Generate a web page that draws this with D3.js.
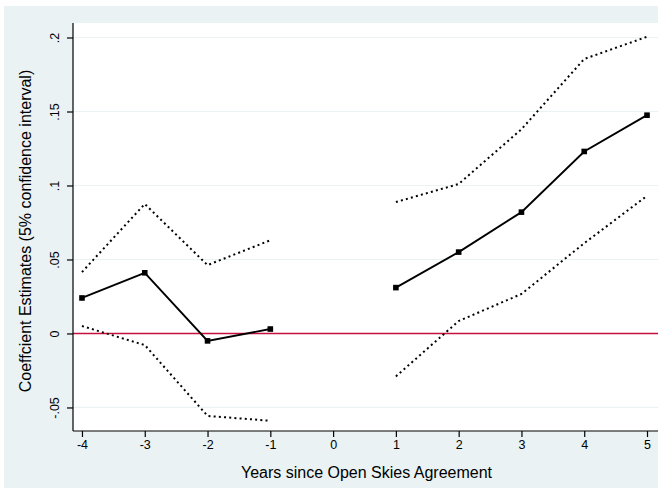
<!DOCTYPE html>
<html>
<head>
<meta charset="utf-8">
<script src="https://cdn.jsdelivr.net/npm/d3@7"></script>
<style>
  html, body { margin: 0; padding: 0; background: #ffffff; }
  svg { display: block; }
  text { font-family: "Liberation Sans", Arial, sans-serif; fill: #000; }
</style>
</head>
<body>
<svg id="chart" width="658" height="488"></svg>
<script>
// Event-study coefficients by year relative to the agreement (no estimate at year 0)
const years    = [-4, -3, -2, -1, 0, 1, 2, 3, 4, 5];
const estimate = [0.024, 0.041, -0.005, 0.003, null, 0.031, 0.055, 0.082, 0.123, 0.1475];
const upperCI  = [0.0415, 0.0875, 0.0462, 0.063, null, 0.0888, 0.101, 0.138, 0.1855, 0.2005];
const lowerCI  = [0.005, -0.0078, -0.0557, -0.059, null, -0.029, 0.0084, 0.0267, 0.061, 0.093];

const xTicks = [-4, -3, -2, -1, 0, 1, 2, 3, 4, 5];
const xTickLabels = ["-4", "-3", "-2", "-1", "0", "1", "2", "3", "4", "5"];
const yTicks = [-0.05, 0, 0.05, 0.1, 0.15, 0.2];
const yTickLabels = ["-.05", "0", ".05", ".1", ".15", ".2"];

const W = 658, H = 488;
const plot = { left: 73, right: 658, top: 23, bottom: 431 };

const svg = d3.select("#chart");

// outer graph region
svg.append("rect").attr("x", 4).attr("y", 6).attr("width", W - 4).attr("height", H - 6)
  .attr("fill", "#eaf2f3");
// plot region
svg.append("rect").attr("x", plot.left).attr("y", plot.top)
  .attr("width", plot.right - plot.left).attr("height", plot.bottom - plot.top)
  .attr("fill", "#ffffff");

const x = d3.scaleLinear().domain([-4.143, 5.175]).range([plot.left, plot.right]);
const y = d3.scaleLinear().domain([-0.0659, 0.2098]).range([plot.bottom, plot.top]);

// horizontal grid lines
svg.append("g").selectAll("line").data(yTicks.filter(v => v !== 0)).join("line")
  .attr("x1", plot.left).attr("x2", plot.right)
  .attr("y1", d => y(d)).attr("y2", d => y(d))
  .attr("stroke", "#eaf2f3").attr("stroke-width", 1.2);

// reference line at zero
svg.append("line")
  .attr("x1", plot.left).attr("x2", plot.right)
  .attr("y1", y(0)).attr("y2", y(0))
  .attr("stroke", "#c8103e").attr("stroke-width", 1.3);

const rows = years.map((yr, i) => ({ yr, est: estimate[i], hi: upperCI[i], lo: lowerCI[i] }));

const lineOf = key => d3.line()
  .defined(d => d[key] !== null)
  .x(d => x(d.yr)).y(d => y(d[key]));

// confidence bounds (dotted)
["hi", "lo"].forEach(k => {
  svg.append("path").datum(rows).attr("d", lineOf(k))
    .attr("fill", "none").attr("stroke", "#000")
    .attr("stroke-width", 2).attr("stroke-linecap", "butt")
    .attr("stroke-dasharray", "2,3.2");
});

// point estimates (solid line with square markers)
svg.append("path").datum(rows).attr("d", lineOf("est"))
  .attr("fill", "none").attr("stroke", "#000").attr("stroke-width", 1.9);

svg.append("g").selectAll("rect").data(rows.filter(d => d.est !== null)).join("rect")
  .attr("x", d => x(d.yr) - 2.8).attr("y", d => y(d.est) - 2.8)
  .attr("width", 5.6).attr("height", 5.6).attr("fill", "#000");

// y axis
const yAxis = d3.axisLeft(y).tickValues(yTicks).tickSize(6)
  .tickFormat((d, i) => yTickLabels[i]);
const gy = svg.append("g").attr("transform", `translate(${plot.left},0)`).call(yAxis);
gy.select(".domain").attr("d", `M0,${plot.top}V${plot.bottom}`).attr("stroke", "#000").attr("stroke-width", 1.2);
gy.selectAll(".tick line").attr("stroke", "#000").attr("stroke-width", 1.2);
gy.selectAll(".tick text")
  .attr("x", 0).attr("dy", null)
  .attr("text-anchor", "middle")
  .attr("transform", "translate(-17,0) rotate(-90)")
  .attr("dominant-baseline", "middle")
  .style("font-size", "12.5px")
  .style("font-family", "'Liberation Sans', Arial, sans-serif");

// x axis
const xAxis = d3.axisBottom(x).tickValues(xTicks).tickSize(6)
  .tickFormat((d, i) => xTickLabels[i]);
const gx = svg.append("g").attr("transform", `translate(0,${plot.bottom})`).call(xAxis);
gx.select(".domain").attr("d", `M${plot.left},0H${plot.right}`).attr("stroke", "#000").attr("stroke-width", 1.2);
gx.selectAll(".tick line").attr("stroke", "#000").attr("stroke-width", 1.2);
gx.selectAll(".tick text").attr("y", 9).attr("dy", "0.71em")
  .style("font-size", "12.5px")
  .style("font-family", "'Liberation Sans', Arial, sans-serif");

// axis titles
svg.append("text")
  .attr("x", (plot.left + plot.right) / 2 + 1).attr("y", 478)
  .attr("text-anchor", "middle").style("font-size", "16px")
  .text("Years since Open Skies Agreement");

svg.append("text")
  .attr("transform", `translate(31,${(plot.top + plot.bottom) / 2 + 4}) rotate(-90)`)
  .attr("text-anchor", "middle").style("font-size", "16px")
  .text("Coeffcient Estimates (5% confidence interval)");
</script>
</body>
</html>
